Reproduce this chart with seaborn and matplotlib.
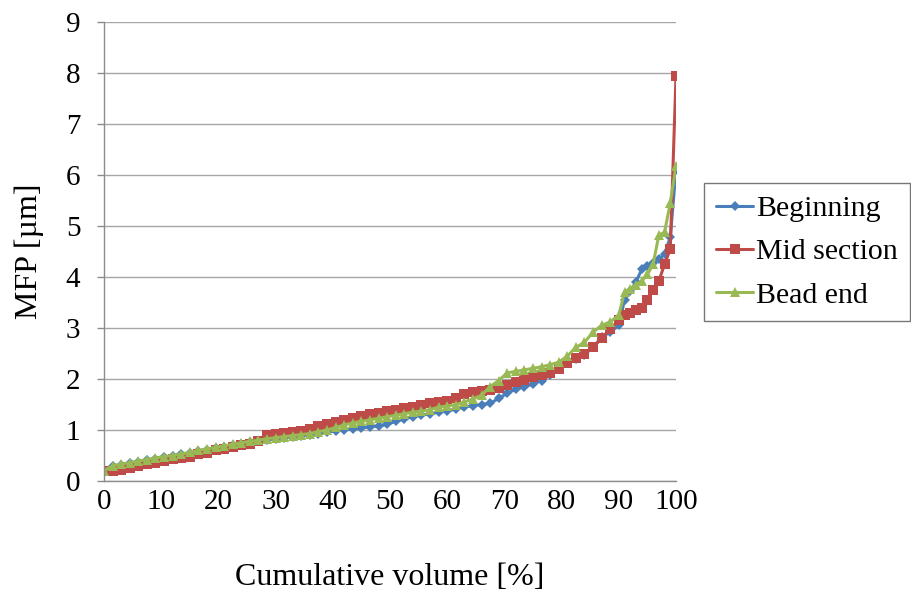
import matplotlib
matplotlib.use("Agg")
import matplotlib.pyplot as plt
import numpy as np
import pandas as pd
import seaborn as sns

# Cumulative volume [%] at which MFP was sampled
cum_volume = [0, 1.5, 3, 4.5, 6, 7.5, 9, 10.5, 12, 13.5, 15, 16.5, 18, 19.5, 21, 22.5,
              24, 25.5, 27, 28.5, 30, 31.5, 33, 34.5, 36, 37.5, 39, 40.5, 42, 43.5, 45,
              46.5, 48, 49.5, 51, 52.5, 54, 55.5, 57, 58.5, 60, 61.5, 63, 64.5, 66, 67.5,
              69, 70.5, 72, 73.5, 75, 76.5, 78, 79.5, 81, 82.5, 84, 85.5, 87, 88.5,
              90, 91, 92, 93, 94, 95, 96, 97, 98, 99, 100]

# MFP [um] for each bead position
mfp_beginning = [0.20, 0.29, 0.32, 0.35, 0.38, 0.41, 0.44, 0.47, 0.49, 0.52, 0.55, 0.58,
                 0.61, 0.64, 0.67, 0.70, 0.73, 0.76, 0.78, 0.81, 0.83, 0.85, 0.87, 0.89,
                 0.91, 0.93, 0.96, 0.98, 1.00, 1.02, 1.04, 1.06, 1.08, 1.11, 1.17, 1.22,
                 1.26, 1.29, 1.32, 1.35, 1.37, 1.41, 1.45, 1.48, 1.50, 1.52, 1.62, 1.72,
                 1.80, 1.85, 1.90, 1.97, 2.08, 2.20, 2.32, 2.40, 2.48, 2.62, 2.82, 2.92,
                 3.05, 3.55, 3.72, 3.90, 4.15, 4.22, 4.28, 4.35, 4.45, 4.78, 6.10]

mfp_mid = [0.20, 0.20, 0.22, 0.26, 0.30, 0.33, 0.36, 0.40, 0.43, 0.45, 0.47, 0.52,
           0.55, 0.60, 0.63, 0.66, 0.70, 0.73, 0.78, 0.90, 0.93, 0.95, 0.96, 0.98,
           1.02, 1.08, 1.12, 1.16, 1.20, 1.24, 1.28, 1.31, 1.34, 1.37, 1.40, 1.43,
           1.46, 1.49, 1.52, 1.55, 1.57, 1.63, 1.70, 1.74, 1.76, 1.78, 1.82, 1.88,
           1.94, 1.99, 2.03, 2.07, 2.12, 2.20, 2.32, 2.42, 2.50, 2.62, 2.80, 2.98,
           3.15, 3.25, 3.30, 3.35, 3.40, 3.55, 3.75, 3.92, 4.25, 4.55, 7.94]

mfp_bead_end = [0.20, 0.30, 0.33, 0.36, 0.39, 0.42, 0.45, 0.48, 0.50, 0.53, 0.56, 0.60,
                0.63, 0.66, 0.69, 0.72, 0.75, 0.78, 0.80, 0.83, 0.85, 0.87, 0.89, 0.91,
                0.93, 0.97, 1.00, 1.05, 1.10, 1.14, 1.17, 1.20, 1.23, 1.26, 1.29, 1.32,
                1.35, 1.37, 1.40, 1.45, 1.47, 1.50, 1.55, 1.61, 1.68, 1.85, 1.97, 2.12,
                2.15, 2.18, 2.21, 2.24, 2.28, 2.33, 2.45, 2.62, 2.72, 2.92, 3.05, 3.12,
                3.25, 3.70, 3.77, 3.85, 3.92, 4.05, 4.25, 4.82, 4.88, 5.45, 6.18]

series_names = ["Beginning", "Mid section", "Bead end"]
x_ticks = list(range(0, 101, 10))
y_ticks = list(range(0, 10))

df = pd.concat([
    pd.DataFrame({"Cumulative volume": cum_volume, "MFP": vals, "Position": name})
    for name, vals in zip(series_names, [mfp_beginning, mfp_mid, mfp_bead_end])
], ignore_index=True)

sns.set_theme(style="white")
plt.rcParams["font.family"] = ["Liberation Serif", "DejaVu Serif"]
plt.rcParams["text.color"] = "black"
plt.rcParams["axes.labelcolor"] = "black"
plt.rcParams["xtick.color"] = "black"
plt.rcParams["ytick.color"] = "black"

fig = plt.figure(figsize=(9.12, 5.92), dpi=100)
ax = fig.add_axes([104 / 912, 1 - 481 / 592, (676 - 104) / 912, (481 - 22) / 592])

styles = {
    "Beginning": dict(color="#4A7EBB", marker="D", markersize=5),
    "Mid section": dict(color="#BE4B48", marker="s", markersize=7),
    "Bead end": dict(color="#98B954", marker="^", markersize=7.5),
}

for name in series_names:
    st = styles[name]
    sns.lineplot(data=df[df["Position"] == name], x="Cumulative volume", y="MFP",
                 ax=ax, color=st["color"], marker=st["marker"],
                 markersize=st["markersize"], markeredgewidth=0,
                 linewidth=2.2, label=name, sort=True)

ax.set_xlim(0, 100)
ax.set_ylim(0, 9)
ax.set_xticks(x_ticks)
ax.set_yticks(y_ticks)
ax.set_xticklabels([str(t) for t in x_ticks], fontsize=21)
ax.set_yticklabels([str(t) for t in y_ticks], fontsize=21)
ax.yaxis.grid(True, color="#A6A6A6", linewidth=1.0)
ax.xaxis.grid(False)
ax.set_axisbelow(True)

for side in ["top", "right"]:
    ax.spines[side].set_visible(False)
for side in ["left", "bottom"]:
    ax.spines[side].set_color("#8C8C8C")
    ax.spines[side].set_linewidth(1.0)

ax.tick_params(axis="y", which="major", direction="out", length=5, width=1,
               color="#8C8C8C", pad=12, left=True, labelcolor="black")
ax.tick_params(axis="x", which="major", length=0, pad=6, labelcolor="black")

ax.set_xlabel("Cumulative volume [%]", fontsize=23, labelpad=34)
ax.set_ylabel("MFP [µm]", fontsize=23, labelpad=16)

leg = ax.legend(loc="center left", bbox_to_anchor=(704 / 912, 1 - 252 / 592),
                bbox_transform=fig.transFigure, fontsize=21.5, frameon=True,
                fancybox=False, handlelength=1.25, handletextpad=0.1,
                borderpad=0.4, labelspacing=0.55, borderaxespad=0)
leg.get_frame().set_edgecolor("#555555")
leg.get_frame().set_linewidth(1.0)
for line in leg.get_lines():
    line.set_linewidth(2.2)

fig.savefig("out.png", dpi=100, facecolor="white")
